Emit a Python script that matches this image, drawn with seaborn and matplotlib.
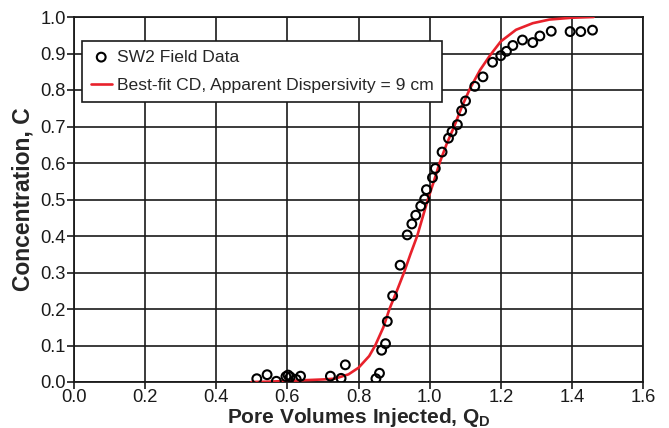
import matplotlib
matplotlib.use("Agg")
import matplotlib.pyplot as plt
import seaborn as sns
import pandas as pd

# Field data (pore volumes injected, concentration)
field_q = [0.514, 0.543, 0.569, 0.596, 0.602, 0.608, 0.625, 0.637, 0.721, 0.751,
           0.763, 0.849, 0.859, 0.865, 0.876, 0.881, 0.896, 0.917, 0.937, 0.950,
           0.961, 0.975, 0.986, 0.991, 1.008, 1.016, 1.035, 1.053, 1.063, 1.078,
           1.090, 1.101, 1.127, 1.150, 1.177, 1.200, 1.216, 1.234, 1.261, 1.290,
           1.310, 1.342, 1.395, 1.425, 1.458]
field_c = [0.009, 0.020, 0.002, 0.015, 0.019, 0.014, 0.007, 0.016, 0.016, 0.010,
           0.047, 0.009, 0.024, 0.087, 0.105, 0.166, 0.236, 0.320, 0.403, 0.433,
           0.457, 0.482, 0.501, 0.527, 0.560, 0.585, 0.630, 0.668, 0.686, 0.705,
           0.743, 0.770, 0.810, 0.836, 0.876, 0.894, 0.906, 0.922, 0.937, 0.930,
           0.948, 0.961, 0.960, 0.960, 0.964]

# Best-fit CD curve
fit_q = [0.499, 0.55, 0.60, 0.65, 0.70, 0.733, 0.772, 0.800, 0.830, 0.847,
         0.870, 0.887, 0.908, 0.928, 0.946, 0.965, 0.980, 0.995, 1.012, 1.028,
         1.047, 1.069, 1.091, 1.114, 1.142, 1.170, 1.200, 1.243, 1.290, 1.337,
         1.400, 1.461]
fit_c = [0.000, 0.001, 0.003, 0.005, 0.007, 0.009, 0.021, 0.039, 0.071, 0.100,
         0.150, 0.200, 0.250, 0.300, 0.350, 0.400, 0.450, 0.500, 0.550, 0.600,
         0.650, 0.700, 0.755, 0.805, 0.855, 0.895, 0.933, 0.965, 0.983, 0.993,
         0.998, 1.000]

x_ticks = [0.0, 0.2, 0.4, 0.6, 0.8, 1.0, 1.2, 1.4, 1.6]
y_ticks = [0.0, 0.1, 0.2, 0.3, 0.4, 0.5, 0.6, 0.7, 0.8, 0.9, 1.0]

data_label = "SW2 Field Data"
fit_label = "Best-fit CD, Apparent Dispersivity = 9 cm"

sns.set_theme(style="ticks")
plt.rcParams["font.family"] = ["Liberation Sans", "DejaVu Sans"]
plt.rcParams["mathtext.fontset"] = "custom"
plt.rcParams["mathtext.rm"] = "Liberation Sans"
plt.rcParams["mathtext.bf"] = "Liberation Sans:bold"

df_pts = pd.DataFrame({"q": field_q, "c": field_c})
df_fit = pd.DataFrame({"q": fit_q, "c": fit_c})

fig = plt.figure(figsize=(6.69, 4.28), dpi=100)
ax = fig.add_axes([74 / 669, 1 - 382 / 428, (643 - 74) / 669, (382 - 17) / 428])

sns.scatterplot(data=df_pts, x="q", y="c", ax=ax, marker="o", s=40,
                facecolor="none", edgecolor="black", linewidth=1.5,
                label=data_label, zorder=4)
sns.lineplot(data=df_fit, x="q", y="c", ax=ax, color="#e8212b", linewidth=1.9,
             label=fit_label, zorder=3, sort=False)

ax.set_xlim(0, 1.6)
ax.set_ylim(0, 1.0)
ax.set_xticks(x_ticks)
ax.set_yticks(y_ticks)
ax.set_xticklabels([f"{v:.1f}" for v in x_ticks])
ax.set_yticklabels([f"{v:.1f}" for v in y_ticks])
ax.grid(True, color="#1a1a1a", linewidth=1.2)
ax.set_axisbelow(True)
for sp in ax.spines.values():
    sp.set_color("#1a1a1a")
    sp.set_linewidth(1.3)
    sp.set_visible(True)
ax.tick_params(axis="both", direction="out", length=5, width=1.2,
               color="#1a1a1a", labelsize=13.2, labelcolor="#1a1a1a", pad=1)
ax.tick_params(axis="x", pad=0)

ax.set_xlabel(r"Pore Volumes Injected, Q$_\mathbf{D}$", fontsize=15,
              fontweight="bold", labelpad=0)
ax.set_ylabel("Concentration, C", fontsize=16.5, fontweight="bold", labelpad=4)

leg = ax.legend(loc="upper left", bbox_to_anchor=(0.014, 0.935), fontsize=12.6,
                frameon=True, fancybox=False, edgecolor="#1a1a1a",
                framealpha=1, borderpad=0.5, handlelength=1.2,
                handletextpad=0.3, labelspacing=0.75, borderaxespad=0)
leg.get_frame().set_linewidth(1.2)

fig.savefig("out.png", dpi=100)
